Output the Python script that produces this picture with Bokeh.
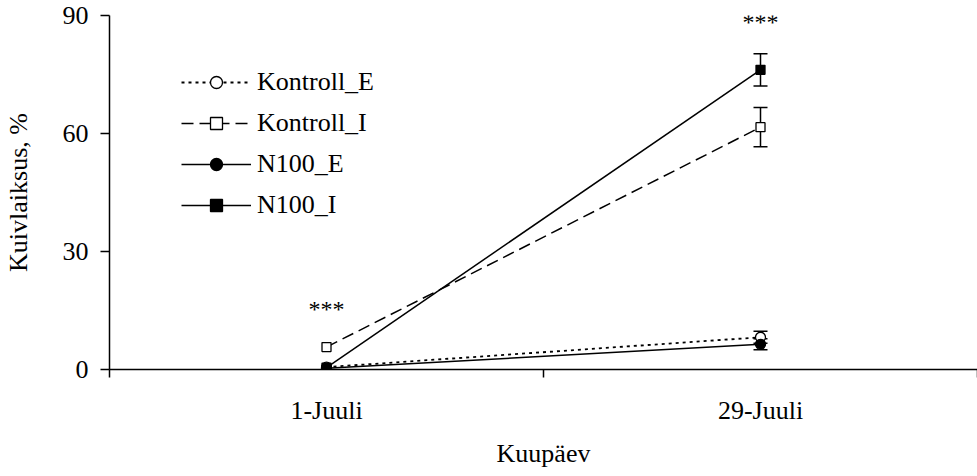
from bokeh.plotting import figure
from bokeh.models import (Range1d, FixedTicker, Whisker, ColumnDataSource, TeeHead, Legend,
                          LegendItem, LabelSet)
from bokeh.embed import file_html
from bokeh.resources import INLINE

categories = ["1-Juuli", "29-Juuli"]
kontroll_e = [0.6, 8.2]
kontroll_e_err = [0.0, 1.5]
kontroll_i = [5.7, 61.6]
kontroll_i_err = [0.0, 5.0]
n100_e = [0.3, 6.4]
n100_e_err = [0.0, 1.4]
n100_i = [0.5, 76.2]
n100_i_err = [0.0, 4.1]
sig_labels = ["***", "***"]
sig_y = [15.4, 88.3]
y_ticks = [0, 30, 60, 90]

FONT = "Liberation Serif"
FS = "26px"

x = [i + 0.5 for i in range(len(categories))]

p = figure(width=977, height=476, output_backend="svg", toolbar_location=None,
           x_range=Range1d(0, len(categories)), y_range=Range1d(0, 90),
           min_border_left=107, min_border_right=0, min_border_top=15, min_border_bottom=107)
p.outline_line_color = None
p.xgrid.visible = False
p.ygrid.visible = False
p.background_fill_color = "white"

# axes
p.xaxis.ticker = FixedTicker(ticks=x, minor_ticks=list(range(len(categories) + 1)))
p.xaxis.major_label_overrides = {xx: c for xx, c in zip(x, categories)}
p.xaxis.major_tick_out = 0
p.xaxis.major_tick_in = 0
p.xaxis.minor_tick_out = 8
p.xaxis.minor_tick_in = 0
p.xaxis.axis_label = "Kuupäev"
p.yaxis.ticker = FixedTicker(ticks=y_ticks, minor_ticks=[])
p.yaxis.major_tick_out = 9
p.yaxis.major_tick_in = 0
p.yaxis.axis_label = "Kuivlaiksus, %"
for ax in (p.xaxis[0], p.yaxis[0]):
    ax.axis_line_width = 1.5
    ax.axis_line_color = "black"
    ax.major_tick_line_width = 1.5
    ax.minor_tick_line_width = 1.5
    ax.major_tick_line_color = "black"
    ax.minor_tick_line_color = "black"
    ax.major_label_text_font = FONT
    ax.major_label_text_font_size = FS
    ax.major_label_text_color = "black"
    ax.axis_label_text_font = FONT
    ax.axis_label_text_font_size = FS
    ax.axis_label_text_font_style = "normal"
    ax.axis_label_text_color = "black"
p.xaxis.major_label_standoff = 18
p.xaxis.axis_label_standoff = 11
p.yaxis.major_label_standoff = 12
p.yaxis.axis_label_standoff = 27

series = [
    ("Kontroll_E", kontroll_e, kontroll_e_err, "3 4", "circle", "white", 1.8),
    ("Kontroll_I", kontroll_i, kontroll_i_err, "12 6", "square", "white", 1.5),
    ("N100_E", n100_e, n100_e_err, "solid", "circle", "black", 1.5),
    ("N100_I", n100_i, n100_i_err, "solid", "square", "black", 1.5),
]

items = []
for name, vals, errs, dash, marker, fill, lw in series:
    ln = p.line(x, vals, line_color="black", line_width=lw, line_dash=dash)
    bx = [xx for xx, e in zip(x, errs) if e > 0]
    up = [v + e for v, e in zip(vals, errs) if e > 0]
    lo = [v - e for v, e in zip(vals, errs) if e > 0]
    if bx:
        src = ColumnDataSource(dict(base=bx, upper=up, lower=lo))
        w = Whisker(base="base", upper="upper", lower="lower", source=src, dimension="height",
                    line_color="black", line_width=1.5,
                    upper_head=TeeHead(size=14, line_color="black", line_width=1.5),
                    lower_head=TeeHead(size=14, line_color="black", line_width=1.5))
        p.add_layout(w)
    sc = p.scatter(x, vals, marker=marker, size=10 if marker == "circle" else 9,
                   fill_color=fill, line_color="black", line_width=1.3)
    items.append(LegendItem(label=name, renderers=[ln, sc]))

sig_src = ColumnDataSource(dict(x=x, y=sig_y, t=sig_labels))
p.add_layout(LabelSet(x="x", y="y", text="t", source=sig_src, text_font=FONT,
                      text_font_size="24px", text_align="center", text_baseline="middle",
                      text_color="black"))

legend = Legend(items=items, location=(72, 149), padding=0, margin=0,
                glyph_width=70, glyph_height=30, label_height=30, spacing=11,
                label_standoff=6, label_text_font=FONT, label_text_font_size=FS,
                label_text_color="black",
                border_line_color=None, background_fill_alpha=0)
p.add_layout(legend, "center")

open("out.html", "w").write(file_html(p, INLINE))
